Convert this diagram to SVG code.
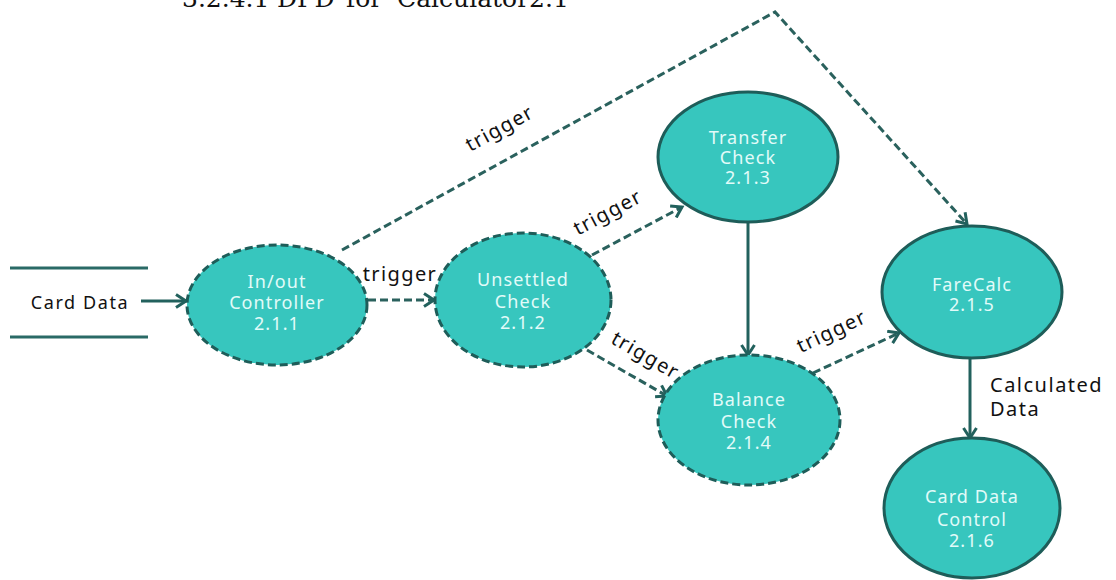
<svg xmlns="http://www.w3.org/2000/svg" width="1116" height="580" viewBox="0 0 1116 580">
  <style>
    .proc { fill: #37c6be; stroke: #1e5d59; stroke-width: 3; }
    .dash { stroke-dasharray: 8 4; }
    .ptxt { font-family: "Noto Sans", "DejaVu Sans", sans-serif; font-size: 18px; fill: #e2fbf9; text-anchor: middle; letter-spacing: 1.1px; }
    .flow { fill: none; stroke: #22615d; stroke-width: 3; }
    .trig { fill: none; stroke: #2a615d; stroke-width: 3; stroke-dasharray: 8 4; }
    .lbl { font-family: "Noto Sans", "DejaVu Sans", sans-serif; font-size: 20px; fill: #111; letter-spacing: 1.4px; text-anchor: middle; }
    .store { stroke: #2a6a66; stroke-width: 3; }
    .title { font-family: "DejaVu Serif", "Liberation Serif", serif; font-size: 25px; fill: #111; }
  </style>
  <defs>
    <marker id="arrow" markerUnits="userSpaceOnUse" markerWidth="16" markerHeight="16" refX="12" refY="8" orient="auto">
      <path d="M2,1.5 L12,8 L2,14.5" fill="none" stroke="#22615d" stroke-width="3"/>
    </marker>
  </defs>
  <rect width="1116" height="580" fill="#ffffff"/>

  <!-- section heading, cropped at the top edge -->
  <g id="heading">
    <text class="title" x="182" y="7">3.2.4.1</text>
    <text class="title" x="277" y="7">DFD</text>
    <text class="title" x="346" y="7">for</text>
    <text class="title" x="397" y="7">Calculator2.1</text>
  </g>

  <!-- external data store -->
  <g id="card-data">
    <line class="store" x1="10" y1="268" x2="148" y2="268"/>
    <line class="store" x1="10" y1="337" x2="148" y2="337"/>
    <text x="80" y="309" style="font-family:'Noto Sans','DejaVu Sans',sans-serif;font-size:18px;fill:#111;letter-spacing:1.6px;text-anchor:middle">Card Data</text>
  </g>

  <!-- data flows and triggers -->
  <g id="connectors">
    <line class="flow" x1="141" y1="301" x2="186" y2="301" marker-end="url(#arrow)"/>
    <line class="trig" x1="368" y1="300" x2="434" y2="300" marker-end="url(#arrow)"/>
    <polyline class="trig" points="342,250 775,12 967,224" marker-end="url(#arrow)"/>
    <line class="trig" x1="592" y1="255" x2="682" y2="207" marker-end="url(#arrow)"/>
    <line class="trig" x1="587" y1="350" x2="667" y2="396" marker-end="url(#arrow)"/>
    <line class="trig" x1="813" y1="373" x2="899" y2="333" marker-end="url(#arrow)"/>
    <line class="flow" x1="748" y1="222" x2="748" y2="355" marker-end="url(#arrow)"/>
    <line class="flow" x1="970" y1="358" x2="970" y2="438" marker-end="url(#arrow)"/>

    <text class="lbl" x="400" y="281">trigger</text>
    <text class="lbl" transform="translate(500,129) rotate(-28.6)" y="6">trigger</text>
    <text class="lbl" transform="translate(608,213) rotate(-28)" y="6">trigger</text>
    <text class="lbl" transform="translate(645,356) rotate(30)" y="6">trigger</text>
    <text class="lbl" transform="translate(832,332) rotate(-25)" y="6">trigger</text>
    <text x="990" y="392" style="font-family:'Noto Sans','DejaVu Sans',sans-serif;font-size:20px;fill:#111;letter-spacing:1.5px">Calculated</text>
    <text x="990" y="416" style="font-family:'Noto Sans','DejaVu Sans',sans-serif;font-size:20px;fill:#111;letter-spacing:1.5px">Data</text>
  </g>

  <g id="p211">
    <ellipse class="proc dash" cx="277" cy="305" rx="90" ry="60"/>
    <text class="ptxt" x="277" y="288">In/out</text>
    <text class="ptxt" x="277" y="309">Controller</text>
    <text class="ptxt" x="277" y="330">2.1.1</text>
  </g>

  <g id="p212">
    <ellipse class="proc dash" cx="523" cy="300" rx="88" ry="67"/>
    <text class="ptxt" x="523" y="286">Unsettled</text>
    <text class="ptxt" x="523" y="308">Check</text>
    <text class="ptxt" x="523" y="329">2.1.2</text>
  </g>

  <g id="p213">
    <ellipse class="proc" cx="748" cy="157" rx="90" ry="65"/>
    <text class="ptxt" x="748" y="144">Transfer</text>
    <text class="ptxt" x="748" y="164">Check</text>
    <text class="ptxt" x="748" y="184">2.1.3</text>
  </g>

  <g id="p214">
    <ellipse class="proc dash" cx="749" cy="420" rx="91" ry="65"/>
    <text class="ptxt" x="749" y="406">Balance</text>
    <text class="ptxt" x="749" y="428">Check</text>
    <text class="ptxt" x="749" y="449">2.1.4</text>
  </g>

  <g id="p215">
    <ellipse class="proc" cx="972" cy="292" rx="90" ry="66"/>
    <text class="ptxt" x="972" y="291">FareCalc</text>
    <text class="ptxt" x="972" y="311">2.1.5</text>
  </g>

  <g id="p216">
    <ellipse class="proc" cx="972" cy="508" rx="88" ry="70"/>
    <text class="ptxt" x="972" y="503">Card Data</text>
    <text class="ptxt" x="972" y="526">Control</text>
    <text class="ptxt" x="972" y="547">2.1.6</text>
  </g>
</svg>
